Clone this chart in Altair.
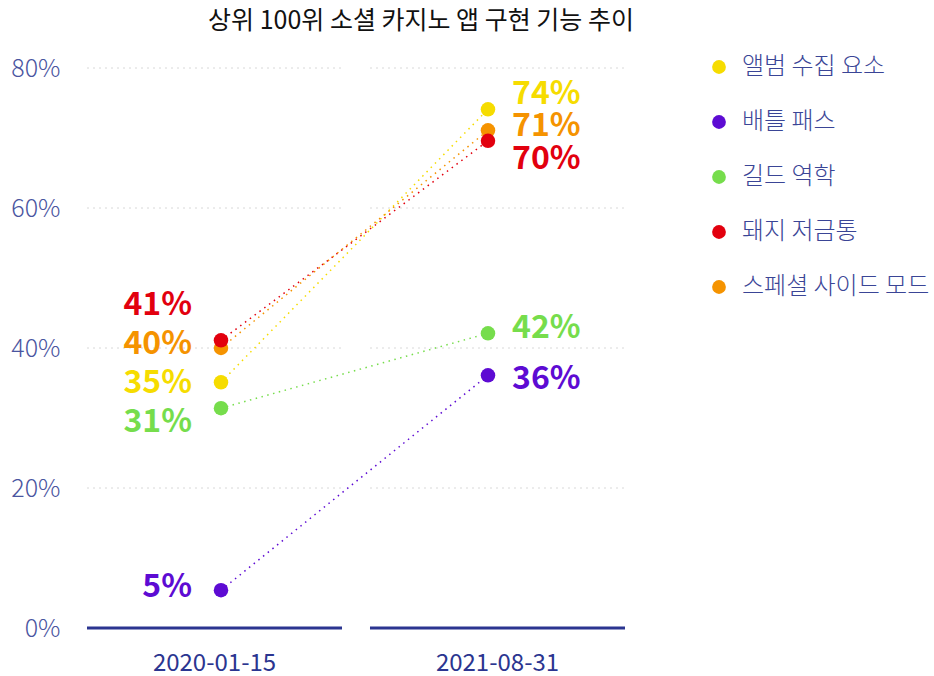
import altair as alt
import pandas as pd

# ---------------- data ----------------
dates = ["2020-01-15", "2021-08-31"]
series = ["앨범 수집 요소", "배틀 패스", "길드 역학", "돼지 저금통", "스페셜 사이드 모드"]
colors = ["#f6dc00", "#5d0bd3", "#76dd4c", "#e2000e", "#f59300"]
values_2020 = [35.1, 5.4, 31.4, 41.1, 40.0]
values_2021 = [74.1, 36.1, 42.1, 69.6, 71.1]
# label anchor values (data units) spread to avoid overlap
label_2020 = [35.0, 5.9, 29.4, 46.1, 40.6]
label_2021 = [76.3, 35.6, 42.8, 67.0, 71.7]
draw_rank = [0, 1, 2, 4, 3]
grid_levels = [20, 40, 60, 80]
y_ticks = [0, 20, 40, 60, 80]

rows = []
for i, s in enumerate(series):
    rows.append(dict(date=dates[0], series=s, value=values_2020[i], label_y=label_2020[i], rank=draw_rank[i]))
    rows.append(dict(date=dates[1], series=s, value=values_2021[i], label_y=label_2021[i], rank=draw_rank[i]))
df = pd.DataFrame(rows)
df["label"] = df["value"].round(0).astype(int).astype(str) + "%"

grid_df = pd.DataFrame([dict(date=d, level=g) for d in dates for g in grid_levels])
base_df = pd.DataFrame([dict(date=d, level=0) for d in dates])

FONT = "Noto Sans CJK KR"
W, H = 538, 560

y_scale = alt.Scale(domain=[0, 80], nice=False, zero=True)
y_axis = alt.Axis(values=y_ticks, labelExpr="datum.value + '%'", grid=False, domain=False,
                  ticks=False, labelPadding=27, labelFontSize=25, labelColor="#4a559f",
                  labelFont=FONT, labelFontWeight=300, title=None)

band_x = alt.Scale(type="band", domain=dates, paddingInner=0.0989, paddingOuter=0)
x_axis = alt.Axis(title=None, domain=False, ticks=False, labelAngle=0, labelPadding=23,
                  labelFontSize=24, labelColor="#2b3590", labelFont=FONT, labelFontWeight=400)

grid = alt.Chart(grid_df).mark_rule(color="#d8d8d8", strokeWidth=1, strokeDash=[2, 4]).encode(
    x=alt.X("date:N", scale=band_x, axis=x_axis, bandPosition=0),
    x2=alt.X2("date:N", bandPosition=1),
    y=alt.Y("level:Q", scale=y_scale, axis=y_axis),
)
baseline = alt.Chart(base_df).mark_rule(color="#2b3590", strokeWidth=3).encode(
    x=alt.X("date:N", scale=band_x, axis=x_axis, bandPosition=0),
    x2=alt.X2("date:N", bandPosition=1),
    y=alt.Y("level:Q", scale=y_scale, axis=y_axis),
)
bg = alt.layer(grid, baseline)

pt_x = alt.Scale(type="point", domain=dates, range=[134, 401], padding=0)
color_scale = alt.Scale(domain=series, range=colors)
legend = alt.Legend(title=None, orient="none", legendX=620, legendY=-13,
                    symbolType="circle", symbolSize=190, symbolOpacity=1,
                    symbolStrokeWidth=0,
                    labelFontSize=24, labelColor="#3a4596", labelFont=FONT,
                    labelFontWeight=300, labelOffset=11, rowPadding=31,
                    padding=0, labelLimit=300)
color_enc = alt.Color("series:N", scale=color_scale, sort=series, legend=legend)

lines = alt.Chart(df).mark_line(strokeWidth=1.5, strokeDash=[1.5, 4.5]).encode(
    x=alt.X("date:N", scale=pt_x, axis=None),
    y=alt.Y("value:Q", scale=y_scale),
    color=color_enc,
    detail="series:N",
)
points = alt.Chart(df).mark_circle(size=210, opacity=1).encode(
    x=alt.X("date:N", scale=pt_x, axis=None),
    y=alt.Y("value:Q", scale=y_scale),
    color=color_enc,
    order=alt.Order("rank:Q"),
)
labels_left = alt.Chart(df).transform_filter(alt.datum.date == dates[0]).mark_text(
    align="right", baseline="middle", dx=-29, fontSize=32, fontWeight="bold", font=FONT
).encode(
    x=alt.X("date:N", scale=pt_x, axis=None),
    y=alt.Y("label_y:Q", scale=y_scale),
    text="label:N",
    color=color_enc,
)
labels_right = alt.Chart(df).transform_filter(alt.datum.date == dates[1]).mark_text(
    align="left", baseline="middle", dx=24, fontSize=32, fontWeight="bold", font=FONT
).encode(
    x=alt.X("date:N", scale=pt_x, axis=None),
    y=alt.Y("label_y:Q", scale=y_scale),
    text="label:N",
    color=color_enc,
)
fg = alt.layer(lines, points, labels_left, labels_right)

chart = alt.layer(bg, fg).resolve_scale(x="independent").properties(
    width=W, height=H,
    background="white",
    title=alt.TitleParams("상위 100위 소셜 카지노 앱 구현 기능 추이", fontSize=25, font=FONT,
                          fontWeight=400, color="#111111", anchor="middle", dx=65, offset=21),
    autosize=alt.AutoSizeParams(type="none"),
    padding={"left": 87, "top": 68, "right": 309, "bottom": 48},
).configure_view(strokeWidth=0, stroke="transparent")

chart.save("out.html", embed_options={"renderer": "svg", "actions": False})
